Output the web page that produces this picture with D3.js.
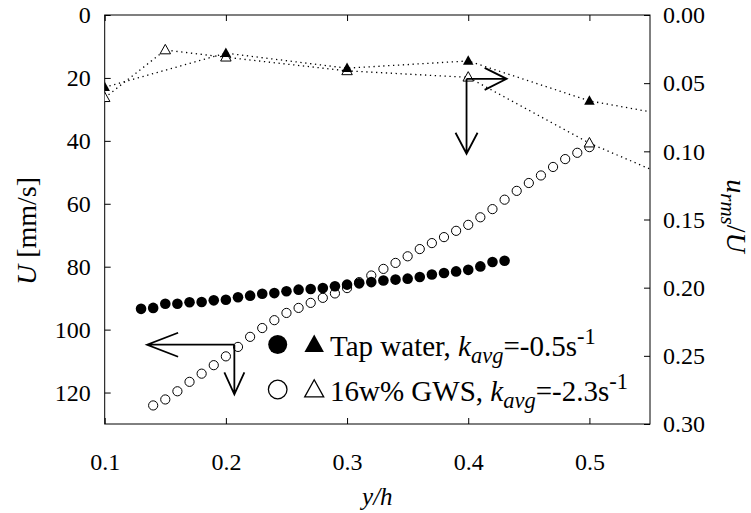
<!DOCTYPE html>
<html>
<head>
<meta charset="utf-8">
<script src="https://cdn.jsdelivr.net/npm/d3@7"></script>
<style>
  body { margin: 0; background: #fff; }
  svg { display: block; }
</style>
</head>
<body>
<svg id="chart" width="751" height="513"></svg>
<script>
// ---------- data ----------
const tapX = [0.13,0.14,0.15,0.16,0.17,0.18,0.19,0.20,0.21,0.22,0.23,0.24,0.25,0.26,0.27,0.28,0.29,0.30,0.31,0.32,0.33,0.34,0.35,0.36,0.37,0.38,0.39,0.40,0.41,0.42,0.43];
const tapU = [93.4,93.1,91.8,91.8,91.3,91.2,90.7,90.5,89.7,89.2,88.6,88.4,87.8,87.3,87.1,86.8,86.2,85.7,85.3,84.9,84.4,84.1,83.8,83.3,82.5,82.0,81.5,81.0,79.9,78.5,78.1];

const gwsX = [0.14,0.15,0.16,0.17,0.18,0.19,0.20,0.21,0.22,0.23,0.24,0.25,0.26,0.27,0.28,0.29,0.30,0.31,0.32,0.33,0.34,0.35,0.36,0.37,0.38,0.39,0.40,0.41,0.42,0.43,0.44,0.45,0.46,0.47,0.48,0.49,0.50];
const gwsU = [124.1,122.2,119.6,116.6,114.0,111.3,108.5,105.5,102.3,99.5,97.0,94.7,93.1,91.5,89.9,88.5,86.8,84.9,82.8,80.7,78.8,76.7,74.4,72.5,70.6,68.6,66.7,64.3,61.7,58.7,55.9,53.4,51.0,48.3,45.8,43.8,42.0];

const tapRmsX = [0.1,0.2,0.3,0.4,0.5,0.6];
const tapRms  = [0.053,0.028,0.039,0.0337,0.063,0.079];
const gwsRmsX = [0.1,0.15,0.2,0.3,0.4,0.5,0.6];
const gwsRms  = [0.0607,0.0257,0.031,0.041,0.0457,0.094,0.132];

const xTicks = [0.1,0.2,0.3,0.4,0.5];
const leftTicks = [0,20,40,60,80,100,120];
const rightTicks = [0,0.05,0.10,0.15,0.20,0.25,0.30];

const legendLabels = [
  {name: "Tap water, ", k: "-0.5"},
  {name: "16w% GWS, ", k: "-2.3"}
];

// arrows in data coordinates (x, U)
const arrows = [
  {x1: 0.207, u1: 104.8, x2: 0.135, u2: 104.8, len: 31, half: 12},
  {x1: 0.207, u1: 104.8, x2: 0.207, u2: 120.6, len: 22, half: 10},
  {x1: 0.3986, u1: 20.3, x2: 0.4317, u2: 20.3, len: 22, half: 11},
  {x1: 0.3986, u1: 20.3, x2: 0.3986, u2: 44.1, len: 21, half: 11}
];

// ---------- layout ----------
const FONT = "'Liberation Serif', 'Times New Roman', serif";
const L = 104.7, R = 650, T = 15, B = 424;
const svg = d3.select("#chart");

const x = d3.scaleLinear([0.1, 0.55], [L, R]);
const yL = d3.scaleLinear([0, 130], [T, B]);
const yR = d3.scaleLinear([0, 0.3], [T, B]);

svg.append("defs").append("clipPath").attr("id", "clip")
  .append("rect").attr("x", L).attr("y", T).attr("width", R - L).attr("height", B - T);

const tickLen = 6;
function styleAxis(g, fs) {
  g.attr("font-family", null).attr("font-size", null);
  g.select(".domain").remove();
  g.selectAll(".tick line").attr("stroke", "#000").attr("stroke-width", 1);
  g.selectAll(".tick text").style("font-size", fs + "px").attr("fill", "#000");
}

svg.append("g").attr("transform", `translate(${L},0)`)
  .call(d3.axisLeft(yL).tickValues(leftTicks).tickSizeInner(-tickLen).tickSizeOuter(0).tickPadding(14).tickFormat(d3.format("d")))
  .call(g => styleAxis(g, 24));

svg.append("g").attr("transform", `translate(${R},0)`)
  .call(d3.axisRight(yR).tickValues(rightTicks).tickSizeInner(-tickLen).tickSizeOuter(0).tickPadding(13).tickFormat(d3.format(".2f")))
  .call(g => styleAxis(g, 24));

svg.append("g").attr("transform", `translate(0,${B})`)
  .call(d3.axisBottom(x).tickValues(xTicks).tickSizeInner(-tickLen).tickSizeOuter(0).tickPadding(29).tickFormat(d3.format(".1f")))
  .call(g => styleAxis(g, 24));

svg.append("g").attr("transform", `translate(0,${T})`)
  .call(d3.axisTop(x).tickValues(xTicks).tickSizeInner(-tickLen).tickSizeOuter(0).tickFormat(""))
  .call(g => styleAxis(g, 24));

svg.append("rect").attr("x", L).attr("y", T).attr("width", R - L).attr("height", B - T)
  .attr("fill", "none").attr("stroke", "#000").attr("stroke-width", 1);

// ---------- dotted rms lines ----------
const plot = svg.append("g").attr("clip-path", "url(#clip)");
const lineR = d3.line().x(d => x(d[0])).y(d => yR(d[1]));
[[tapRmsX, tapRms], [gwsRmsX, gwsRms]].forEach(([xs, ys]) => {
  plot.append("path").datum(xs.map((v, i) => [v, ys[i]]))
    .attr("d", lineR).attr("fill", "none").attr("stroke", "#000")
    .attr("stroke-width", 1.3).attr("stroke-dasharray", "1.3,3.6");
});

// ---------- circles ----------
plot.selectAll(".gws").data(gwsX.map((v, i) => [v, gwsU[i]])).join("circle")
  .attr("cx", d => x(d[0])).attr("cy", d => yL(d[1])).attr("r", 4.6)
  .attr("fill", "none").attr("stroke", "#000").attr("stroke-width", 1);
plot.selectAll(".tap").data(tapX.map((v, i) => [v, tapU[i]])).join("circle")
  .attr("cx", d => x(d[0])).attr("cy", d => yL(d[1])).attr("r", 5.3)
  .attr("fill", "#000");

// ---------- triangles ----------
function triPath(cx, cy, w) {
  const h = w * 0.9;
  return `M${cx},${cy - h * 0.6}L${cx + w / 2},${cy + h * 0.4}L${cx - w / 2},${cy + h * 0.4}Z`;
}
plot.selectAll(".tgws").data(gwsRmsX.map((v, i) => [v, gwsRms[i]])).join("path")
  .attr("d", d => triPath(x(d[0]), yR(d[1]), 10.5))
  .attr("fill", "#fff").attr("stroke", "#000").attr("stroke-width", 1);
plot.selectAll(".ttap").data(tapRmsX.map((v, i) => [v, tapRms[i]])).join("path")
  .attr("d", d => triPath(x(d[0]), yR(d[1]), 10.5))
  .attr("fill", "#000");

// ---------- arrows ----------
arrows.forEach(a => {
  const sx = x(a.x1), sy = yL(a.u1), ex = x(a.x2), ey = yL(a.u2);
  const ang = Math.atan2(ey - sy, ex - sx);
  const bx = ex - a.len * Math.cos(ang), by = ey - a.len * Math.sin(ang);
  const px = -Math.sin(ang) * a.half, py = Math.cos(ang) * a.half;
  svg.append("path")
    .attr("d", `M${sx},${sy}L${ex},${ey}M${bx + px},${by + py}L${ex},${ey}L${bx - px},${by - py}`)
    .attr("fill", "none").attr("stroke", "#000").attr("stroke-width", 1.8);
});

// ---------- legend ----------
const lg = svg.append("g");
const legX = 277.7, legY0 = 344.5, legDy = 45;
legendLabels.forEach((d, i) => {
  const cy = legY0 + i * legDy;
  if (i === 0) {
    lg.append("circle").attr("cx", legX).attr("cy", cy).attr("r", 9.5).attr("fill", "#000");
    lg.append("path").attr("d", triPath(legX + 36.5, cy + 0.5, 19.5)).attr("fill", "#000");
  } else {
    lg.append("circle").attr("cx", legX).attr("cy", cy).attr("r", 9.3).attr("fill", "none").attr("stroke", "#000").attr("stroke-width", 1.3);
    lg.append("path").attr("d", triPath(legX + 36.5, cy + 0.5, 19)).attr("fill", "none").attr("stroke", "#000").attr("stroke-width", 1.3);
  }
  const t = lg.append("text").attr("x", 330).attr("y", cy + 11.5).style("font-size", "29px");
  t.append("tspan").text(d.name);
  t.append("tspan").style("font-style", "italic").text("k");
  t.append("tspan").style("font-style", "italic").style("font-size", "22.5px").attr("dy", 7).text("avg");
  t.append("tspan").attr("dy", -7).text("=" + d.k + "s");
  t.append("tspan").style("font-size", "22.5px").attr("dy", -12).text("-1");
});

// ---------- axis titles ----------
const lt = svg.append("text").attr("transform", "translate(36,231) rotate(-90)")
  .attr("text-anchor", "middle").style("font-size", "28px");
lt.append("tspan").style("font-style", "italic").text("U");
lt.append("tspan").text(" [mm/s]");

const rt = svg.append("text").attr("transform", "translate(727,216) rotate(90)")
  .attr("text-anchor", "middle").style("font-size", "28px");
rt.append("tspan").style("font-style", "italic").text("u");
rt.append("tspan").style("font-style", "italic").style("font-size", "21px").attr("dy", 6).text("rms");
rt.append("tspan").attr("dy", -6).text("/");
rt.append("tspan").style("font-style", "italic").text("U");

svg.append("text").attr("x", (L + R) / 2).attr("y", 505).attr("text-anchor", "middle")
  .style("font-size", "25px").style("font-style", "italic").text("y/h");

svg.selectAll("text").style("font-family", FONT).attr("fill", "#000");
</script>
</body>
</html>
